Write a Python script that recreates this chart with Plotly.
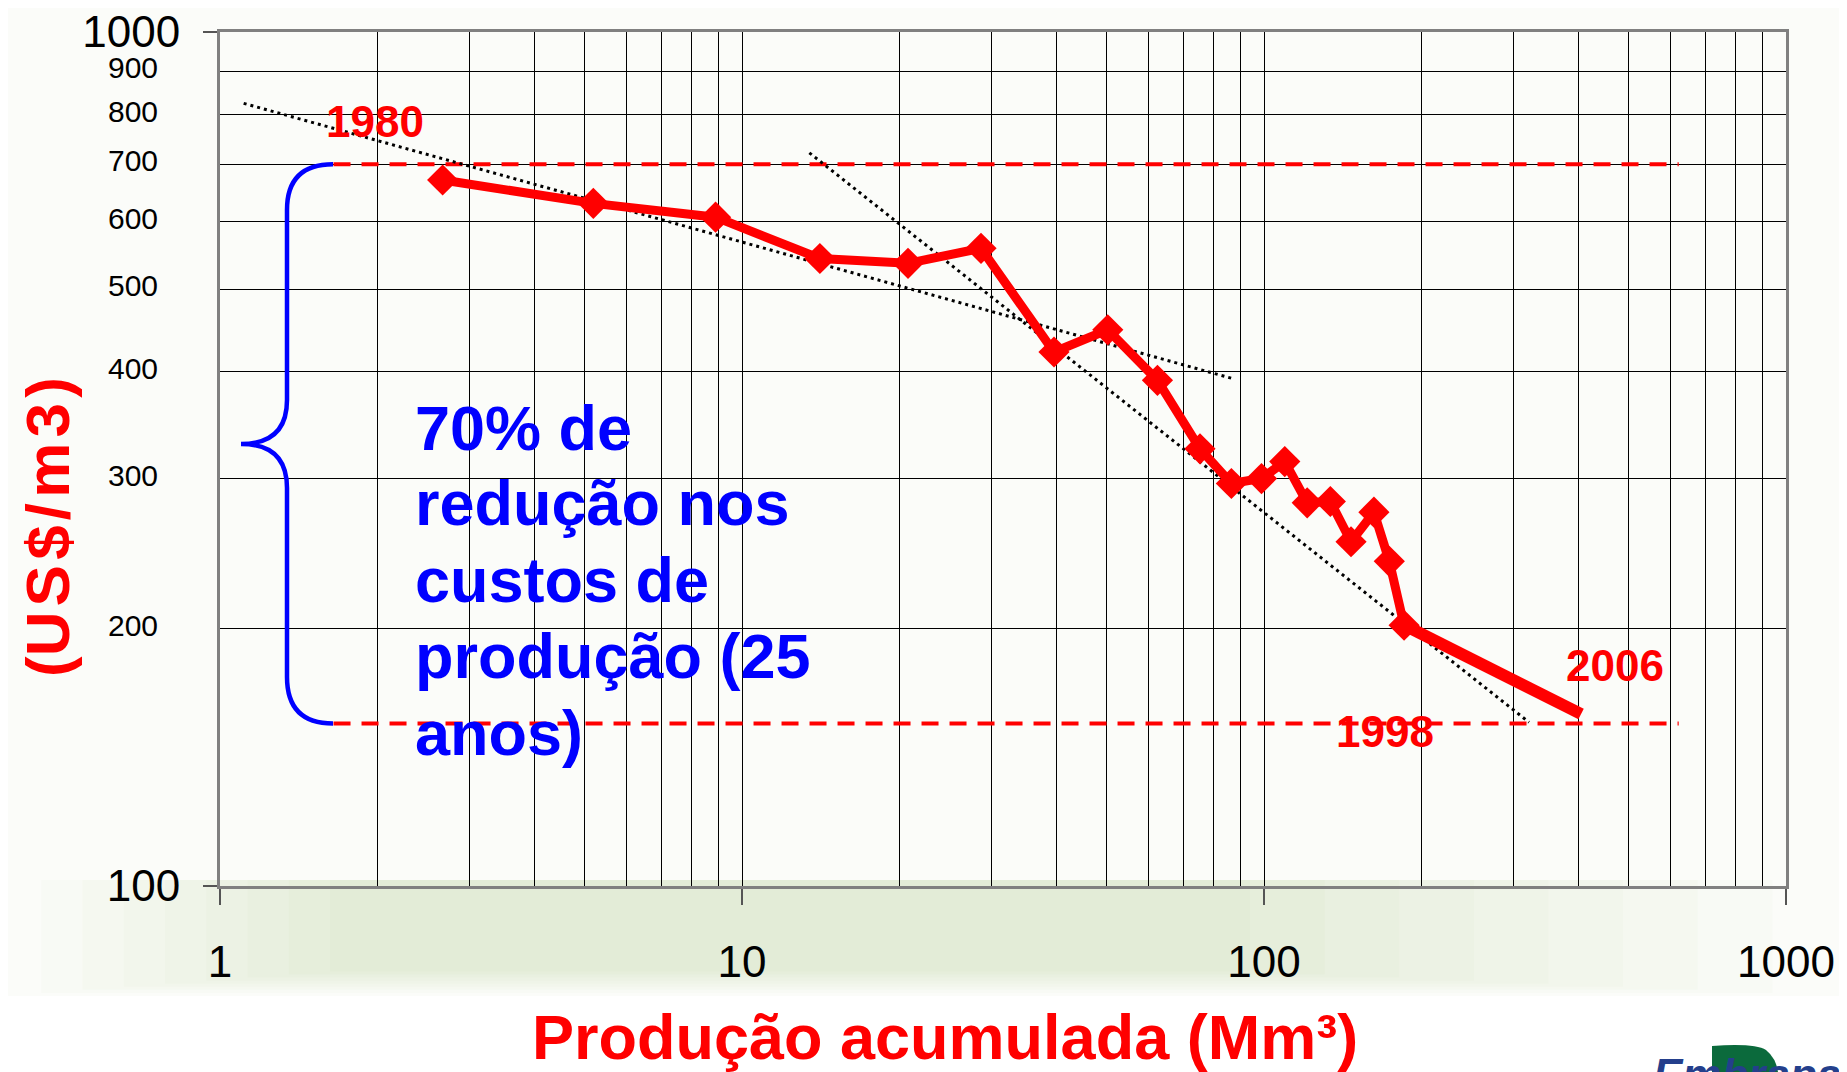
import numpy as np
import plotly.graph_objects as go

# ---- data ----
prod = [2.67, 5.19, 8.9, 14.1, 20.8, 28.7, 39.6, 50.2, 62.5, 75.4, 86.6,
        98.9, 109.6, 121, 134, 146.8, 162.4, 173.8, 185.5, 405]
cost = [671, 630, 607, 543, 536, 558, 422, 448, 391, 325, 296,
        300, 314, 281, 282, 253, 274, 240, 202, 159]

trend1_x = [1.11, 86.8]
trend1_y = [825, 393]
trend2_x = [13.46, 321.9]
trend2_y = [722, 155.5]

ref_x = [1.65, 623]
ref_top = [700, 700]
ref_bot = [155, 155]

x_major = [1, 10, 100, 1000]
x_minor = [m * 10 ** k for k in range(3) for m in range(2, 10)]
y_major = [100, 1000]
y_minor = [200, 300, 400, 500, 600, 700, 800, 900]

blue_lines = ["70% de", "redução nos", "custos de", "produção (25", "anos)"]

SANS = "Liberation Sans, Arial, sans-serif"

W, H = 1847, 1072
OFF = 8  # page body margin
# target plot box on screen: x 220..1786, y 32..886
L, T = 220 - OFF, 32 - OFF
R, B = W - 1786 + OFF, H - 886 + OFF
PW, PH = W - L - R, H - T - B


def px(sx):
    return (sx - OFF - L) / PW


def py(sy):
    return (886 - sy) / PH


fig = go.Figure()

fig.add_trace(go.Scatter(x=ref_x, y=ref_top, mode="lines",
                         line=dict(color="#FF0000", width=4, dash="17px,11px"),
                         hoverinfo="skip"))
fig.add_trace(go.Scatter(x=ref_x, y=ref_bot, mode="lines",
                         line=dict(color="#FF0000", width=4, dash="17px,11px"),
                         hoverinfo="skip"))
fig.add_trace(go.Scatter(x=trend1_x, y=trend1_y, mode="lines",
                         line=dict(color="black", width=3, dash="3px,4px")))
fig.add_trace(go.Scatter(x=trend2_x, y=trend2_y, mode="lines",
                         line=dict(color="black", width=3, dash="3px,4px")))
# last (thicker) segment 1998 -> 2006
fig.add_trace(go.Scatter(x=prod[-2:], y=cost[-2:], mode="lines",
                         line=dict(color="#FF0000", width=12)))
fig.add_trace(go.Scatter(x=prod[:-1], y=cost[:-1], mode="lines+markers",
                         line=dict(color="#FF0000", width=9),
                         marker=dict(symbol="diamond", size=24, color="#FF0000")))

shapes = []
# faint background shading (soft gradient made of nested rectangles)
outer = np.array([0, 1847, 0, 996], dtype=float)
inner = np.array([330, 1250, 886, 955], dtype=float)
c_out = np.array([0xFB, 0xFC, 0xF9], dtype=float)
c_in = np.array([0xE3, 0xEC, 0xD7], dtype=float)
steps = 9
for i in range(steps):
    t = i / (steps - 1)
    x0, x1, y0, y1 = outer + (inner - outer) * t
    if i > 0:
        y0 = 880
        y1 = 996 - (996 - 955) * t * 0.6
    col = c_out + (c_in - c_out) * t
    shapes.append(dict(type="rect", xref="paper", yref="paper", layer="below",
                       x0=px(x0), x1=px(x1), y0=py(y1), y1=py(y0),
                       fillcolor="rgb(%d,%d,%d)" % tuple(col.round()),
                       line=dict(width=0)))
# curly brace
xa, xb, xc = px(333), px(287), px(241)
y1, y2, y3, y4, y5, y6, y7 = py(164.3), py(210), py(400), py(444), py(488), py(677), py(723.5)
brace = (f"M {xa},{y1} Q {xb},{y1} {xb},{y2} L {xb},{y3} Q {xb},{y4} {xc},{y4} "
         f"Q {xb},{y4} {xb},{y5} L {xb},{y6} Q {xb},{y7} {xa},{y7}")
shapes.append(dict(type="path", xref="paper", yref="paper", path=brace,
                   line=dict(color="#0000FF", width=4.5)))
# logo leaf (behind the logo text)
leaf = (f"M {px(1712)},{py(1072)} L {px(1712)},{py(1046)} "
        f"Q {px(1755)},{py(1043)} {px(1766)},{py(1050)} "
        f"Q {px(1776)},{py(1058)} {px(1778)},{py(1072)} Z")
shapes.append(dict(type="path", xref="paper", yref="paper", path=leaf, layer="below",
                   fillcolor="#0B6A3C", line=dict(width=0)))

ann = []
for v in y_minor:
    ann.append(dict(xref="paper", yref="y", x=px(160), y=np.log10(v) + 0.004,
                    text=str(v), showarrow=False, xanchor="right", yanchor="middle",
                    font=dict(family=SANS, size=30, color="black")))
for txt, cx, cy in [("1980", 318 * 1.178, 103 * 1.178), ("2006", 1371 * 1.178, 565 * 1.178),
                    ("1998", 1176 * 1.178, 621 * 1.178)]:
    ann.append(dict(xref="paper", yref="paper", x=px(cx), y=py(cy), text=f"<b>{txt}</b>",
                    showarrow=False, xanchor="center", yanchor="middle",
                    font=dict(family=SANS, size=44, color="#FF0000")))
for line, yc in zip(blue_lines, [428, 503, 580, 656, 733]):
    ann.append(dict(xref="paper", yref="paper", x=px(413), y=py(yc), text=f"<b>{line}</b>",
                    showarrow=False, xanchor="left", yanchor="middle",
                    font=dict(family=SANS, size=63, color="#0000FF")))
ann.append(dict(xref="paper", yref="paper", x=px(47), y=py(527),
                text="<b>(U\u200aS\u200a$\u200a/\u200am\u200a3\u200a)</b>", textangle=-90,
                showarrow=False, xanchor="center", yanchor="middle",
                font=dict(family=SANS, size=62, color="#FF0000")))
ann.append(dict(xref="paper", yref="paper", x=px(945), y=py(1037),
                text="<b>Produção acumulada (Mm³)</b>", xanchor="center", yanchor="middle",
                showarrow=False, font=dict(family=SANS, size=63, color="#FF0000")))
ann.append(dict(xref="paper", yref="paper", x=px(1651), y=py(1048),
                text="<b><i>Embrapa</i></b>", xanchor="left", yanchor="top",
                showarrow=False, font=dict(family=SANS, size=44, color="#243F8C")))

fig.update_layout(
    width=W, height=H,
    margin=dict(l=L, r=R, t=T, b=B, autoexpand=False),
    paper_bgcolor="white",
    plot_bgcolor="#CCFFCC",
    showlegend=False,
    shapes=shapes,
    annotations=ann,
    xaxis=dict(type="log", range=[0, 3], tickmode="array", tickvals=x_major,
               ticktext=[str(v) for v in x_major], ticks="outside", ticklen=16,
               tickcolor="#555555", tickwidth=1.5,
               tickfont=dict(family=SANS, size=44, color="black"),
               ticklabelstandoff=19, automargin=False, ticklabeloverflow="allow",
               showgrid=True, gridcolor="black", gridwidth=1,
               minor=dict(tickmode="array", tickvals=x_minor, showgrid=True,
                          gridcolor="black", gridwidth=1, ticks=""),
               showline=True, linecolor="#808080", linewidth=3, mirror=True,
               zeroline=False, fixedrange=True),
    yaxis=dict(type="log", range=[2, 3], tickmode="array", tickvals=y_major,
               ticktext=[str(v) for v in y_major], ticks="outside", ticklen=14,
               tickcolor="#555555", tickwidth=1.5,
               tickfont=dict(family=SANS, size=44, color="black"),
               ticklabelstandoff=14, automargin=False, ticklabeloverflow="allow",
               showgrid=True, gridcolor="black", gridwidth=1,
               minor=dict(tickmode="array", tickvals=y_minor, showgrid=True,
                          gridcolor="black", gridwidth=1, ticks=""),
               showline=True, linecolor="#808080", linewidth=3, mirror=True,
               zeroline=False, fixedrange=True),
)

fig.write_html("out.html", config={"displayModeBar": False})
